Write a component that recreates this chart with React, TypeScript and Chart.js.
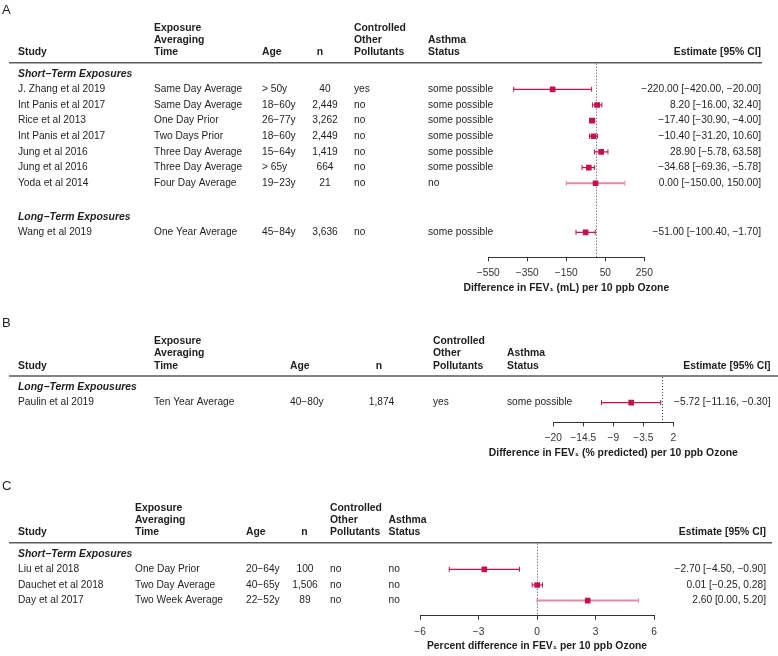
import React, { useEffect, useRef } from "react";
import { Chart, registerables } from "chart.js";
Chart.register(...registerables);

// ---------- Panel A data ----------
const aGroups = ["Short−Term Exposures", "Long−Term Exposures"];
const aGroupOf = [0, 0, 0, 0, 0, 0, 0, 1];
const aStudies = ["J. Zhang et al 2019", "Int Panis et al 2017", "Rice et al 2013", "Int Panis et al 2017", "Jung et al 2016", "Jung et al 2016", "Yoda et al 2014", "Wang et al 2019"];
const aExposure = ["Same Day Average", "Same Day Average", "One Day Prior", "Two Days Prior", "Three Day Average", "Three Day Average", "Four Day Average", "One Year Average"];
const aAge = ["> 50y", "18−60y", "26−77y", "18−60y", "15−64y", "> 65y", "19−23y", "45−84y"];
const aN = [40, 2449, 3262, 2449, 1419, 664, 21, 3636];
const aControlled = ["yes", "no", "no", "no", "no", "no", "no", "no"];
const aAsthma = ["some possible", "some possible", "some possible", "some possible", "some possible", "some possible", "no", "some possible"];
const aEstimate = [-220.0, 8.2, -17.4, -10.4, 28.9, -34.68, 0.0, -51.0];
const aLower = [-420.0, -16.0, -30.9, -31.2, -5.78, -69.36, -150.0, -100.4];
const aUpper = [-20.0, 32.4, -4.0, 10.6, 63.58, -5.78, 150.0, -1.7];
const aTicks = [-550, -350, -150, 50, 250];
const aTitle = "Difference in FEV₁ (mL) per 10 ppb Ozone";

// ---------- Panel B data ----------
const bGroups = ["Long−Term Expousures"];
const bGroupOf = [0];
const bStudies = ["Paulin et al 2019"];
const bExposure = ["Ten Year Average"];
const bAge = ["40−80y"];
const bN = [1874];
const bControlled = ["yes"];
const bAsthma = ["some possible"];
const bEstimate = [-5.72];
const bLower = [-11.16];
const bUpper = [-0.3];
const bTicks = [-20, -14.5, -9, -3.5, 2];
const bTitle = "Difference in FEV₁ (% predicted) per 10 ppb Ozone";

// ---------- Panel C data ----------
const cGroups = ["Short−Term Exposures"];
const cGroupOf = [0, 0, 0];
const cStudies = ["Liu et al 2018", "Dauchet et al 2018", "Day et al 2017"];
const cExposure = ["One Day Prior", "Two Day Average", "Two Week Average"];
const cAge = ["20−64y", "40−65y", "22−52y"];
const cN = [100, 1506, 89];
const cControlled = ["no", "no", "no"];
const cAsthma = ["no", "no", "no"];
const cEstimate = [-2.7, 0.01, 2.6];
const cLower = [-4.5, -0.25, 0.0];
const cUpper = [-0.9, 0.28, 5.2];
const cTicks = [-6, -3, 0, 3, 6];
const cTitle = "Percent difference in FEV₁ per 10 ppb Ozone";

// ---------- styling / layout ----------
const FONT = "'Liberation Sans', Arial, Helvetica, sans-serif";
const CRIMSON = "#C4104E";
const LIGHT = "#E389A8";
const TEXT = "#1e1e1e";
const ROW = 15.65;
const W = 778;
const REG = 10.2;
const BOLD = 10.4;

const minus = (s: string) => s.replace(/-/g, "−");
const fmt2 = (v: number) => minus(v.toFixed(2));
const fmtN = (n: number) => String(n).replace(/\B(?=(\d{3})+(?!\d))/g, ",");

type PanelData = {
  letter: string;
  groups: string[];
  groupOf: number[];
  studies: string[];
  exposure: string[];
  age: string[];
  n: number[];
  controlled: string[];
  asthma: string[];
  est: number[];
  lo: number[];
  hi: number[];
  ticks: number[];
  title: string;
};

type PanelLayout = {
  top: number;
  height: number;
  letterY: number;
  lineY: number;
  lineX1: number;
  axisLeft: number;
  axisRight: number;
  axisY: number;
  titleY: number;
  groupGap: number;
  light: number[];
  cols: { study: number; exposure: number; age: number; nHead: number; n: number; controlled: number; asthma: number; estRight: number };
};

function computeRows(d: PanelData, gap: number) {
  const rows: number[] = [];
  const headers: { r: number; text: string }[] = [];
  let r = -1;
  let cur = -1;
  d.groupOf.forEach((g, i) => {
    if (g !== cur) {
      if (cur !== -1) r += 1 + gap;
      r += 1;
      headers.push({ r, text: d.groups[g] });
      cur = g;
    }
    r += 1;
    rows[i] = r;
  });
  return { rows, headers };
}

function Panel({ d, L }: { d: PanelData; L: PanelLayout }) {
  const ref = useRef<HTMLCanvasElement | null>(null);
  useEffect(() => {
    const canvas = ref.current;
    if (!canvas) return;
    const { rows, headers } = computeRows(d, L.groupGap);
    const ymin = -0.7;
    const ymax = ymin + (L.axisY - L.lineY) / ROW;
    const scaleBottom = L.titleY + 7;

    const forest = {
      id: "forest",
      beforeDatasetsDraw(chart: any) {
        const ctx = chart.ctx as CanvasRenderingContext2D;
        const xs = chart.scales.x;
        const ys = chart.scales.y;
        const area = chart.chartArea;
        ctx.save();
        // zero reference line
        const x0 = xs.getPixelForValue(0);
        ctx.strokeStyle = "#444";
        ctx.lineWidth = 1;
        ctx.setLineDash([1, 2]);
        ctx.beginPath();
        ctx.moveTo(Math.round(x0) + 0.5, area.top + 1);
        ctx.lineTo(Math.round(x0) + 0.5, area.bottom);
        ctx.stroke();
        ctx.setLineDash([]);
        // confidence intervals
        d.est.forEach((_, i) => {
          const y = ys.getPixelForValue(rows[i]);
          const xl = xs.getPixelForValue(d.lo[i]);
          const xh = xs.getPixelForValue(d.hi[i]);
          const light = L.light.includes(i);
          ctx.strokeStyle = light ? LIGHT : CRIMSON;
          ctx.lineWidth = light ? 2 : 1.2;
          ctx.beginPath();
          ctx.moveTo(xl, y);
          ctx.lineTo(xh, y);
          ctx.stroke();
          ctx.lineWidth = 1;
          ctx.beginPath();
          ctx.moveTo(xl, y - 2.5);
          ctx.lineTo(xl, y + 2.5);
          ctx.moveTo(xh, y - 2.5);
          ctx.lineTo(xh, y + 2.5);
          ctx.stroke();
        });
        ctx.restore();
      },
      afterDraw(chart: any) {
        const ctx = chart.ctx as CanvasRenderingContext2D;
        const xs = chart.scales.x;
        const ys = chart.scales.y;
        const c = L.cols;
        ctx.save();
        ctx.fillStyle = TEXT;
        ctx.textBaseline = "middle";
        // panel letter
        ctx.font = `13px ${FONT}`;
        ctx.textAlign = "left";
        ctx.fillText(d.letter, 2, L.letterY);
        // header
        const h1 = L.lineY - 35;
        const h2 = L.lineY - 22.6;
        const h3 = L.lineY - 10.3;
        ctx.font = `bold ${BOLD}px ${FONT}`;
        ctx.fillText("Study", c.study, h3);
        ctx.fillText("Exposure", c.exposure, h1);
        ctx.fillText("Averaging", c.exposure, h2);
        ctx.fillText("Time", c.exposure, h3);
        ctx.fillText("Age", c.age, h3);
        ctx.fillText("Controlled", c.controlled, h1);
        ctx.fillText("Other", c.controlled, h2);
        ctx.fillText("Pollutants", c.controlled, h3);
        ctx.fillText("Asthma", c.asthma, h2);
        ctx.fillText("Status", c.asthma, h3);
        ctx.textAlign = "center";
        ctx.fillText("n", c.nHead, h3);
        ctx.textAlign = "right";
        ctx.fillText("Estimate [95% CI]", c.estRight, h3);
        // axis title (centred under the x scale)
        ctx.textAlign = "center";
        ctx.fillText(d.title, (xs.left + xs.right) / 2, L.titleY);
        // header rule
        ctx.strokeStyle = "#5a5a5a";
        ctx.lineWidth = 1.5;
        ctx.beginPath();
        ctx.moveTo(9, L.lineY);
        ctx.lineTo(L.lineX1, L.lineY);
        ctx.stroke();
        // group headers
        ctx.textAlign = "left";
        ctx.font = `italic bold ${BOLD}px ${FONT}`;
        headers.forEach((h) => ctx.fillText(h.text, c.study, ys.getPixelForValue(h.r)));
        // rows
        ctx.font = `${REG}px ${FONT}`;
        d.studies.forEach((s, i) => {
          const y = ys.getPixelForValue(rows[i]);
          ctx.textAlign = "left";
          ctx.fillText(s, c.study, y);
          ctx.fillText(d.exposure[i], c.exposure, y);
          ctx.fillText(d.age[i], c.age, y);
          ctx.fillText(d.controlled[i], c.controlled, y);
          ctx.fillText(d.asthma[i], c.asthma, y);
          ctx.textAlign = "center";
          ctx.fillText(fmtN(d.n[i]), c.n, y);
          ctx.textAlign = "right";
          ctx.fillText(`${fmt2(d.est[i])} [${fmt2(d.lo[i])}, ${fmt2(d.hi[i])}]`, c.estRight, y);
        });
        ctx.restore();
      },
    };

    const chart = new Chart(canvas, {
      type: "scatter",
      data: {
        datasets: [
          {
            data: d.est.map((v, i) => ({ x: v, y: rows[i] })),
            pointStyle: "rect",
            pointRadius: 4,
            pointHoverRadius: 4,
            backgroundColor: CRIMSON,
            borderColor: CRIMSON,
            borderWidth: 0,
          },
        ],
      },
      options: {
        responsive: false,
        animation: false,
        devicePixelRatio: 1,
        events: [],
        layout: {
          padding: {
            left: L.axisLeft,
            right: W - L.axisRight,
            top: L.lineY,
            bottom: L.height - scaleBottom,
          },
        },
        plugins: { legend: { display: false }, tooltip: { enabled: false } },
        scales: {
          x: {
            type: "linear",
            min: d.ticks[0],
            max: d.ticks[d.ticks.length - 1],
            afterBuildTicks: (s: any) => {
              s.ticks = d.ticks.map((v) => ({ value: v }));
            },
            afterFit: (s: any) => {
              s.height = scaleBottom - L.axisY;
            },
            border: { display: true, color: "#333", width: 1 },
            grid: { display: true, drawOnChartArea: false, drawTicks: true, tickLength: 4, color: "#333", lineWidth: 1 },
            ticks: {
              font: { family: FONT, size: REG },
              color: "#333",
              padding: 6,
              maxRotation: 0,
              autoSkip: false,
              callback: (v: any) => minus(String(v)),
            },
            title: { display: false },
          },
          y: { type: "linear", display: false, reverse: true, min: ymin, max: ymax },
        },
      } as any,
      plugins: [forest],
    });
    return () => chart.destroy();
  }, [d, L]);
  return (
    <canvas
      ref={ref}
      width={W}
      height={L.height}
      style={{ position: "absolute", left: 0, top: L.top, width: W, height: L.height }}
    />
  );
}

const panelA: PanelData = { letter: "A", groups: aGroups, groupOf: aGroupOf, studies: aStudies, exposure: aExposure, age: aAge, n: aN, controlled: aControlled, asthma: aAsthma, est: aEstimate, lo: aLower, hi: aUpper, ticks: aTicks, title: aTitle };
const panelB: PanelData = { letter: "B", groups: bGroups, groupOf: bGroupOf, studies: bStudies, exposure: bExposure, age: bAge, n: bN, controlled: bControlled, asthma: bAsthma, est: bEstimate, lo: bLower, hi: bUpper, ticks: bTicks, title: bTitle };
const panelC: PanelData = { letter: "C", groups: cGroups, groupOf: cGroupOf, studies: cStudies, exposure: cExposure, age: cAge, n: cN, controlled: cControlled, asthma: cAsthma, est: cEstimate, lo: cLower, hi: cUpper, ticks: cTicks, title: cTitle };

const layoutA: PanelLayout = {
  top: 0, height: 300, letterY: 10, lineY: 62.7, lineX1: 762, axisLeft: 488.3, axisRight: 644.3, axisY: 257.3, titleY: 287.7, groupGap: 0.14, light: [6],
  cols: { study: 18, exposure: 154, age: 262, nHead: 320, n: 325, controlled: 354, asthma: 428, estRight: 761 },
};
const layoutB: PanelLayout = {
  top: 300, height: 162, letterY: 23.3, lineY: 76, lineX1: 778, axisLeft: 553.3, axisRight: 673.3, axisY: 122.3, titleY: 152.7, groupGap: 0.14, light: [],
  cols: { study: 18, exposure: 154, age: 290, nHead: 379, n: 381.5, controlled: 433, asthma: 507, estRight: 770.5 },
};
const layoutC: PanelLayout = {
  top: 462, height: 194, letterY: 24.7, lineY: 80.7, lineX1: 772, axisLeft: 420, axisRight: 654, axisY: 153.7, titleY: 184, groupGap: 0.14, light: [2],
  cols: { study: 18, exposure: 135, age: 246, nHead: 304.5, n: 305, controlled: 330, asthma: 388.5, estRight: 766 },
};

export default function App() {
  return (
    <div style={{ position: "absolute", left: 0, top: 0, width: W, height: 656, background: "#fff" }}>
      <Panel d={panelA} L={layoutA} />
      <Panel d={panelB} L={layoutB} />
      <Panel d={panelC} L={layoutC} />
    </div>
  );
}
